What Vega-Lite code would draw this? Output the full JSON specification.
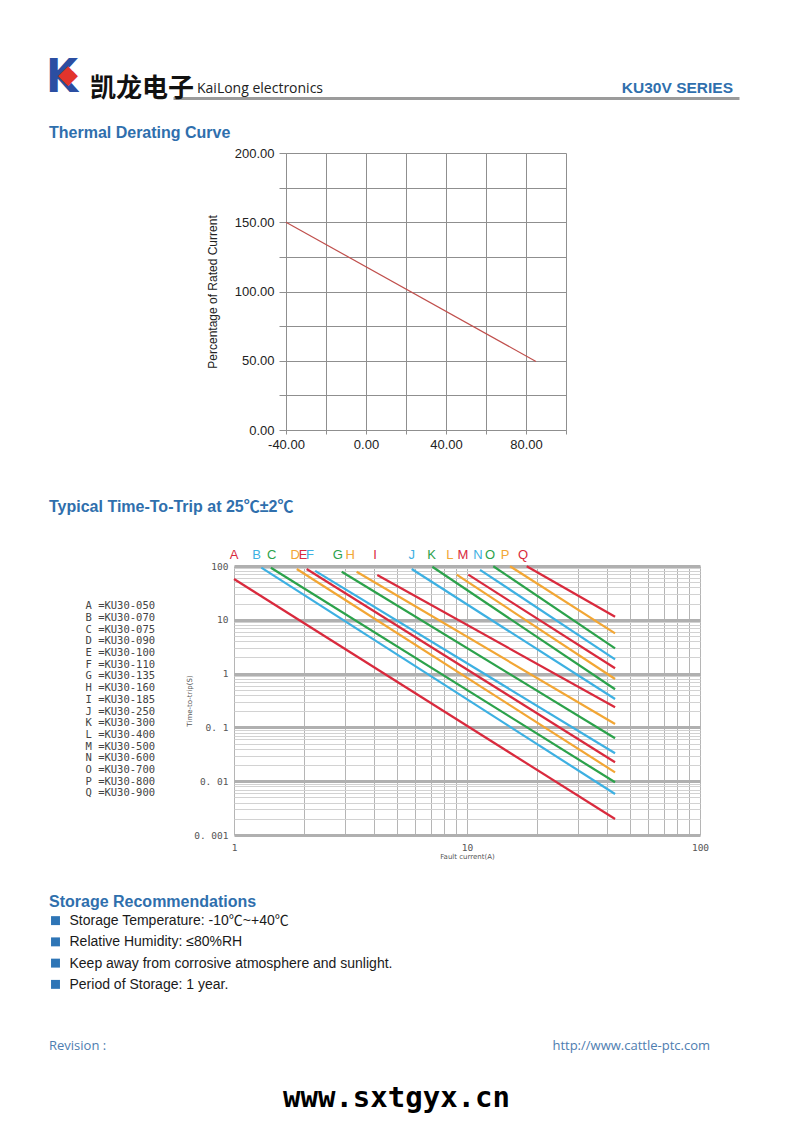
{
  "$schema": "https://vega.github.io/schema/vega-lite/v6.json",
  "background": "white",
  "padding": 0,
  "spacing": 0,
  "bounds": "flush",
  "config": {"view": {"stroke": null}, "font": "Liberation Sans"},
  "datasets": {
    "derating": [
      {"temp": -40, "pct": 150},
      {"temp": 85, "pct": 49.5}
    ],
    "curves": [
      {"id": "A", "name": "A =KU30-050", "current": 1, "time": 57.3},
      {"id": "A", "name": "A =KU30-050", "current": 43.2, "time": 0.00198},
      {"id": "B", "name": "B =KU30-070", "current": 1.31, "time": 93},
      {"id": "B", "name": "B =KU30-070", "current": 43.2, "time": 0.00578},
      {"id": "C", "name": "C =KU30-075", "current": 1.44, "time": 93},
      {"id": "C", "name": "C =KU30-075", "current": 43.2, "time": 0.00955},
      {"id": "D", "name": "D =KU30-090", "current": 1.86, "time": 88},
      {"id": "D", "name": "D =KU30-090", "current": 43.2, "time": 0.0146},
      {"id": "E", "name": "E =KU30-100", "current": 2.05, "time": 88},
      {"id": "E", "name": "E =KU30-100", "current": 43.2, "time": 0.0225},
      {"id": "F", "name": "F =KU30-110", "current": 2.23, "time": 81},
      {"id": "F", "name": "F =KU30-110", "current": 43.2, "time": 0.033},
      {"id": "G", "name": "G =KU30-135", "current": 2.9, "time": 78},
      {"id": "G", "name": "G =KU30-135", "current": 43.2, "time": 0.0627},
      {"id": "H", "name": "H =KU30-160", "current": 3.36, "time": 78},
      {"id": "H", "name": "H =KU30-160", "current": 43.2, "time": 0.116},
      {"id": "I", "name": "I =KU30-185", "current": 4.12, "time": 68},
      {"id": "I", "name": "I =KU30-185", "current": 43.2, "time": 0.237},
      {"id": "J", "name": "J =KU30-250", "current": 5.79, "time": 88},
      {"id": "J", "name": "J =KU30-250", "current": 43.2, "time": 0.337},
      {"id": "K", "name": "K =KU30-300", "current": 7.1, "time": 97},
      {"id": "K", "name": "K =KU30-300", "current": 43.2, "time": 0.511},
      {"id": "L", "name": "L =KU30-400", "current": 9.03, "time": 69},
      {"id": "L", "name": "L =KU30-400", "current": 43.2, "time": 0.794},
      {"id": "M", "name": "M =KU30-500", "current": 10.13, "time": 69},
      {"id": "M", "name": "M =KU30-500", "current": 43.2, "time": 1.26},
      {"id": "N", "name": "N =KU30-600", "current": 11.37, "time": 85},
      {"id": "N", "name": "N =KU30-600", "current": 43.2, "time": 1.84},
      {"id": "O", "name": "O =KU30-700", "current": 12.97, "time": 99},
      {"id": "O", "name": "O =KU30-700", "current": 43.2, "time": 2.95},
      {"id": "P", "name": "P =KU30-800", "current": 15.3, "time": 99},
      {"id": "P", "name": "P =KU30-800", "current": 43.2, "time": 5.61},
      {"id": "Q", "name": "Q =KU30-900", "current": 18.04, "time": 99},
      {"id": "Q", "name": "Q =KU30-900", "current": 43.2, "time": 11.4}
    ],
    "letters": [
      {"id": "A", "name": "A =KU30-050", "current": 1.0},
      {"id": "B", "name": "B =KU30-070", "current": 1.25},
      {"id": "C", "name": "C =KU30-075", "current": 1.45},
      {"id": "D", "name": "D =KU30-090", "current": 1.83},
      {"id": "E", "name": "E =KU30-100", "current": 1.98},
      {"id": "F", "name": "F =KU30-110", "current": 2.12},
      {"id": "G", "name": "G =KU30-135", "current": 2.79},
      {"id": "H", "name": "H =KU30-160", "current": 3.15},
      {"id": "I", "name": "I =KU30-185", "current": 4.03},
      {"id": "J", "name": "J =KU30-250", "current": 5.79},
      {"id": "K", "name": "K =KU30-300", "current": 7.05},
      {"id": "L", "name": "L =KU30-400", "current": 8.45},
      {"id": "M", "name": "M =KU30-500", "current": 9.61},
      {"id": "N", "name": "N =KU30-600", "current": 11.15},
      {"id": "O", "name": "O =KU30-700", "current": 12.55},
      {"id": "P", "name": "P =KU30-800", "current": 14.56},
      {"id": "Q", "name": "Q =KU30-900", "current": 17.4}
    ],
    "storage": [
      {"item": "Storage Temperature: -10℃~+40℃"},
      {"item": "Relative Humidity: ≤80%RH"},
      {"item": "Keep away from corrosive atmosphere and sunlight."},
      {"item": "Period of Storage: 1 year."}
    ]
  },
  "vconcat": [
    {
      "width": 793, "height": 98,
      "view": {"fill": "white"},
      "data": {"values": []},
      "mark": "point",
      "encoding": {
        "x": {"field": "v", "type": "quantitative",
          "scale": {"domain": [0, 1], "range": [173, 739]},
          "axis": {"orient": "bottom", "labels": false, "ticks": false, "grid": false, "title": null, "domainColor": "#9b9b9b", "domainWidth": 3}}
      }
    },
    {
      "width": 793, "height": 1, "data": {"values": []}, "mark": "point",
      "title": {"text": "凯龙电子", "anchor": "start", "frame": "group", "dx": 90, "offset": -25, "baseline": "alphabetic", "font": "Noto Sans CJK SC", "fontSize": 26, "fontWeight": "bold", "color": "#111111"}
    },
    {
      "width": 793, "height": 1, "data": {"values": []}, "mark": "point",
      "title": {"text": "KaiLong electronics", "anchor": "start", "frame": "group", "dx": 197, "offset": -8, "baseline": "alphabetic", "font": "Open Sans", "fontSize": 14, "fontWeight": "normal", "color": "#222222"}
    },
    {
      "width": 733, "height": 1, "data": {"values": []}, "mark": "point",
      "title": {"text": "KU30V SERIES", "anchor": "end", "frame": "group", "offset": -8.5, "baseline": "alphabetic", "font": "Liberation Sans", "fontSize": 15.5, "fontWeight": "bold", "color": "#2f6fad"}
    },
    {
      "width": 793, "height": 1, "data": {"values": []}, "mark": "point",
      "title": {"text": "K", "anchor": "start", "frame": "group", "dx": 46, "offset": -37, "baseline": "alphabetic", "font": "DejaVu Sans Condensed, DejaVu Sans", "fontSize": 46, "fontWeight": "bold", "color": "#2b4ea2"}
    },
    {
      "width": 793, "height": 51, "data": {"values": []}, "mark": "point",
      "title": {"text": "◆", "anchor": "start", "frame": "group", "dx": 58, "offset": -6.5, "baseline": "alphabetic", "font": "DejaVu Sans", "fontSize": 26, "fontWeight": "normal", "color": "#e2342c"}
    },
    {
      "width": 793, "height": 277,
      "title": {"text": "Thermal Derating Curve", "anchor": "start", "frame": "group", "dx": 49, "offset": -6.5, "baseline": "alphabetic", "font": "Liberation Sans", "fontSize": 16, "fontWeight": "bold", "color": "#2f6fad"},
      "data": {"name": "derating"},
      "mark": {"type": "line", "color": "#c0504d", "strokeWidth": 1.2},
      "encoding": {
        "x": {"field": "temp", "type": "quantitative",
          "scale": {"domain": [-40, 100], "range": [286, 566], "nice": false},
          "axis": {"values": [-40, -20, 0, 20, 40, 60, 80, 100],
            "labelExpr": "datum.value % 40 == 0 ? replace(format(datum.value, '.2f'), '−', '-') : ''",
            "grid": true, "gridColor": "#8f8f8f", "domainColor": "#8f8f8f", "tickColor": "#8f8f8f", "tickSize": 4,
            "labelFont": "Liberation Sans", "labelFontSize": 13, "labelColor": "#222222", "labelPadding": 4,
            "labelFlush": false, "labelOverlap": false, "title": null}},
        "y": {"field": "pct", "type": "quantitative",
          "scale": {"domain": [0, 200], "nice": false},
          "axis": {"values": [0, 25, 50, 75, 100, 125, 150, 175, 200],
            "labelExpr": "datum.value % 50 == 0 ? format(datum.value, '.2f') : ''",
            "offset": -286, "grid": true, "gridColor": "#8f8f8f", "domainColor": "#8f8f8f", "tickColor": "#8f8f8f", "tickSize": 7,
            "labelFont": "Liberation Sans", "labelFontSize": 13, "labelColor": "#222222", "labelPadding": 5, "labelOverlap": false,
            "title": "Percentage of Rated Current", "titleFont": "Liberation Sans", "titleFontSize": 12, "titleFontWeight": "normal", "titleColor": "#222222", "titlePadding": 15}}
      }
    },
    {"width": 1, "height": 136, "data": {"values": []}, "mark": "point"},
    {
      "width": 793, "height": 269,
      "title": {"text": "Typical Time-To-Trip at 25℃±2℃", "anchor": "start", "frame": "group", "dx": 49, "offset": 21, "baseline": "alphabetic", "font": "Liberation Sans, Noto Sans CJK SC", "fontSize": 16, "fontWeight": "bold", "color": "#2f6fad"},
      "encoding": {
        "x": {"field": "current", "type": "quantitative",
          "scale": {"type": "log", "domain": [1, 100], "range": [234, 700], "nice": false},
          "axis": {"values": [1, 2, 3, 4, 5, 6, 7, 8, 9, 10, 20, 30, 40, 50, 60, 70, 80, 90, 100],
            "labelExpr": "datum.value == 1 || datum.value == 10 || datum.value == 100 ? format(datum.value, 'd') : ''",
            "grid": true, "gridColor": "#b5b5b5", "ticks": false, "tickSize": 0, "domain": false,
            "labelFont": "DejaVu Sans Mono", "labelFontSize": 9.5, "labelColor": "#555555", "labelPadding": 7,
            "labelFlush": false, "labelOverlap": false,
            "title": "Fault current(A)", "titleFont": "DejaVu Sans", "titleFontSize": 7, "titleFontWeight": "normal", "titleColor": "#555555", "titlePadding": 1}},
        "color": {"field": "name", "type": "nominal",
          "scale": {
            "domain": ["A =KU30-050", "B =KU30-070", "C =KU30-075", "D =KU30-090", "E =KU30-100", "F =KU30-110", "G =KU30-135", "H =KU30-160", "I =KU30-185", "J =KU30-250", "K =KU30-300", "L =KU30-400", "M =KU30-500", "N =KU30-600", "O =KU30-700", "P =KU30-800", "Q =KU30-900"],
            "range": ["#d92a3d", "#3db0e2", "#2ca24b", "#f2a634", "#d92a3d", "#3db0e2", "#2ca24b", "#f2a634", "#d92a3d", "#3db0e2", "#2ca24b", "#f2a634", "#d92a3d", "#3db0e2", "#2ca24b", "#f2a634", "#d92a3d"]},
          "legend": {"orient": "none", "legendX": 75, "legendY": 601, "direction": "vertical", "columns": 1, "title": null,
            "symbolSize": 0, "symbolStrokeWidth": 0, "symbolOpacity": 0, "labelOffset": 0,
            "labelFont": "DejaVu Sans Mono", "labelFontSize": 10.5, "labelColor": "#444444", "rowPadding": 0.7, "labelLimit": 0}}
      },
      "layer": [
        {"data": {"name": "curves"}, "mark": {"type": "line", "strokeWidth": 2.2},
          "encoding": {
            "y": {"field": "time", "type": "quantitative",
              "scale": {"type": "log", "domain": [0.001, 100], "nice": false},
              "axis": {"values": [0.001, 0.002, 0.003, 0.004, 0.005, 0.006, 0.007, 0.008, 0.009, 0.01, 0.02, 0.03, 0.04, 0.05, 0.06, 0.07, 0.08, 0.09, 0.1, 0.2, 0.3, 0.4, 0.5, 0.6, 0.7, 0.8, 0.9, 1, 2, 3, 4, 5, 6, 7, 8, 9, 10, 20, 30, 40, 50, 60, 70, 80, 90, 100],
                "labelExpr": "abs(log(datum.value)/LN10 - round(log(datum.value)/LN10)) < 0.01 ? (datum.value >= 1 ? format(datum.value, 'd') : replace(format(datum.value, '.3~f'), '.', '. ')) : ''",
                "offset": -234, "grid": true,
                "gridColor": {"condition": {"test": "abs(log(datum.value)/LN10 - round(log(datum.value)/LN10)) < 0.01", "value": "#b0b0b0"}, "value": "#d2d2d2"},
                "gridWidth": {"condition": {"test": "abs(log(datum.value)/LN10 - round(log(datum.value)/LN10)) < 0.01", "value": 3}, "value": 1},
                "ticks": false, "tickSize": 0, "domain": false,
                "labelFont": "DejaVu Sans Mono", "labelFontSize": 9.5, "labelColor": "#555555", "labelPadding": 6, "labelOverlap": false,
                "title": "Time-to-trip(S)", "titleFont": "DejaVu Sans", "titleFontSize": 7, "titleFontWeight": "normal", "titleColor": "#555555", "titlePadding": 1}}
          }},
        {"data": {"name": "letters"},
          "mark": {"type": "text", "font": "Liberation Sans", "fontSize": 13, "baseline": "middle"},
          "encoding": {"y": {"datum": 160, "type": "quantitative"}, "text": {"field": "id", "type": "nominal"}}}
      ]
    },
    {"width": 1, "height": 75, "data": {"values": []}, "mark": "point"},
    {
      "width": 111, "height": 85,
      "title": {"text": "Storage Recommendations", "anchor": "start", "frame": "group", "dx": 49, "offset": -13, "baseline": "alphabetic", "font": "Liberation Sans", "fontSize": 16, "fontWeight": "bold", "color": "#2f6fad"},
      "data": {"name": "storage"},
      "mark": {"type": "point", "shape": "square", "filled": true, "size": 80, "color": "#2e75b6", "opacity": 1},
      "encoding": {
        "y": {"field": "item", "type": "nominal", "sort": null,
          "axis": {"orient": "left", "offset": -69, "labelAlign": "left", "labelPadding": 0, "ticks": false, "tickSize": 0, "domain": false, "grid": false, "title": null,
            "labelFont": "Liberation Sans, Noto Sans CJK SC", "labelFontSize": 14, "labelColor": "#1a1a1a", "labelLimit": 0}}
      }
    },
    {"width": 1, "height": 60, "data": {"values": []}, "mark": "point"},
    {
      "width": 793, "height": 1, "data": {"values": []}, "mark": "point",
      "title": {"text": "Revision :", "anchor": "start", "frame": "group", "dx": 49, "offset": -8, "baseline": "alphabetic", "font": "Open Sans", "fontSize": 13, "fontWeight": "normal", "color": "#4e7db0"}
    },
    {
      "width": 710, "height": 1, "data": {"values": []}, "mark": "point",
      "title": {"text": "http://www.cattle-ptc.com", "anchor": "end", "frame": "group", "offset": -7, "baseline": "alphabetic", "font": "Open Sans", "fontSize": 13, "fontWeight": "normal", "color": "#4e7db0"}
    },
    {
      "width": 793, "height": 1, "data": {"values": []}, "mark": "point",
      "title": {"text": "www.sxtgyx.cn", "anchor": "middle", "frame": "group", "offset": -79, "baseline": "alphabetic", "font": "DejaVu Sans Mono", "fontSize": 29, "fontWeight": "bold", "color": "#000000"}
    }
  ]
}
